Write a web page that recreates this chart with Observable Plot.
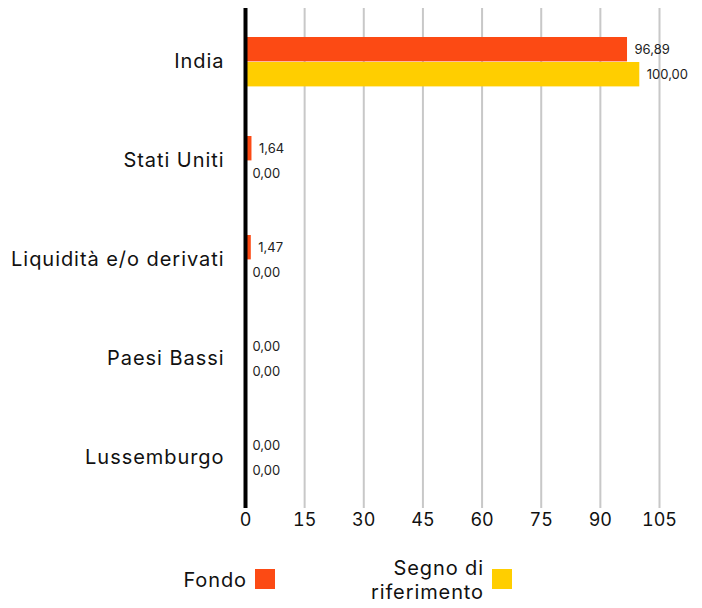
<!DOCTYPE html>
<html>
<head>
<meta charset="utf-8">
<script src="https://cdn.jsdelivr.net/npm/d3@7"></script>
<script src="https://cdn.jsdelivr.net/npm/@observablehq/plot@0.6"></script>
<style>
  html, body { margin: 0; padding: 0; background: #fff; }
  body { width: 702px; height: 608px; position: relative; overflow: hidden; font-family: Inter, "Open Sans", sans-serif; color: #111; }
  #chart svg { display: block; }
  #chart g[aria-label="y-axis tick label"] text { letter-spacing: 0.95px; }
  .leg { position: absolute; font-size: 20px; line-height: 24px; text-align: right; color: #111; letter-spacing: 0.9px; }
  .sw { position: absolute; width: 20px; height: 20px; }
</style>
</head>
<body>
<div id="chart"></div>
<div class="leg" style="left:130px; width:117px; top:568px;">Fondo</div>
<div class="sw" style="left:255px; top:569px; background:#FC4A14;"></div>
<div class="leg" style="left:340px; width:144px; top:556px;">Segno di<br>riferimento</div>
<div class="sw" style="left:492px; top:569px; background:#FFCE00;"></div>
<script>
const categories = ["India", "Stati Uniti", "Liquidità e/o derivati", "Paesi Bassi", "Lussemburgo"];
const fondo = [96.89, 1.64, 1.47, 0.00, 0.00];
const benchmark = [100.00, 0.00, 0.00, 0.00, 0.00];
const xTicks = [0, 15, 30, 45, 60, 75, 90, 105];
const seriesNames = ["Fondo", "Segno di riferimento"];
const seriesColors = ["#FC4A14", "#FFCE00"];

const rows = categories.map((c, i) => ({cat: c, fondo: fondo[i], bench: benchmark[i]}));
const fmt = v => v.toFixed(2).replace(".", ",");

const height = 545;
const marginTop = 10;
const marginBottom = height - 508;
const step = (508 - marginTop) / categories.length;

const chart = Plot.plot({
  width: 702,
  height,
  marginTop,
  marginBottom,
  marginLeft: 245,
  marginRight: 43,
  style: {fontFamily: "Inter, 'Open Sans', sans-serif", color: "#111", background: "#fff"},
  x: {domain: [0, 105]},
  y: {domain: categories, padding: 0},
  marks: [
    Plot.ruleX(xTicks.slice(1), {stroke: "#c8c8c8", strokeWidth: 2, insetTop: -2}),
    Plot.barX(rows, {x: "fondo", y: "cat", fill: seriesColors[0], insetTop: 25, insetBottom: step - 50}),
    Plot.barX(rows, {x: "bench", y: "cat", fill: seriesColors[1], insetTop: 50, insetBottom: step - 75}),
    Plot.text(rows, {x: "fondo", y: "cat", text: d => fmt(d.fondo), textAnchor: "start", dx: 7, dy: -12, fontSize: 13, fill: "#222"}),
    Plot.text(rows, {x: "bench", y: "cat", text: d => fmt(d.bench), textAnchor: "start", dx: 7, dy: 13, fontSize: 13, fill: "#222"}),
    Plot.ruleX([0], {stroke: "#000", strokeWidth: 4, insetTop: -2}),
    Plot.axisY({tickSize: 0, tickPadding: 21, fontSize: 20, label: null}),
    Plot.axisX({ticks: xTicks, tickSize: 0, tickPadding: 5, fontSize: 18, label: null, tickFormat: d => String(d)})
  ]
});
document.getElementById("chart").appendChild(chart);
</script>
</body>
</html>
